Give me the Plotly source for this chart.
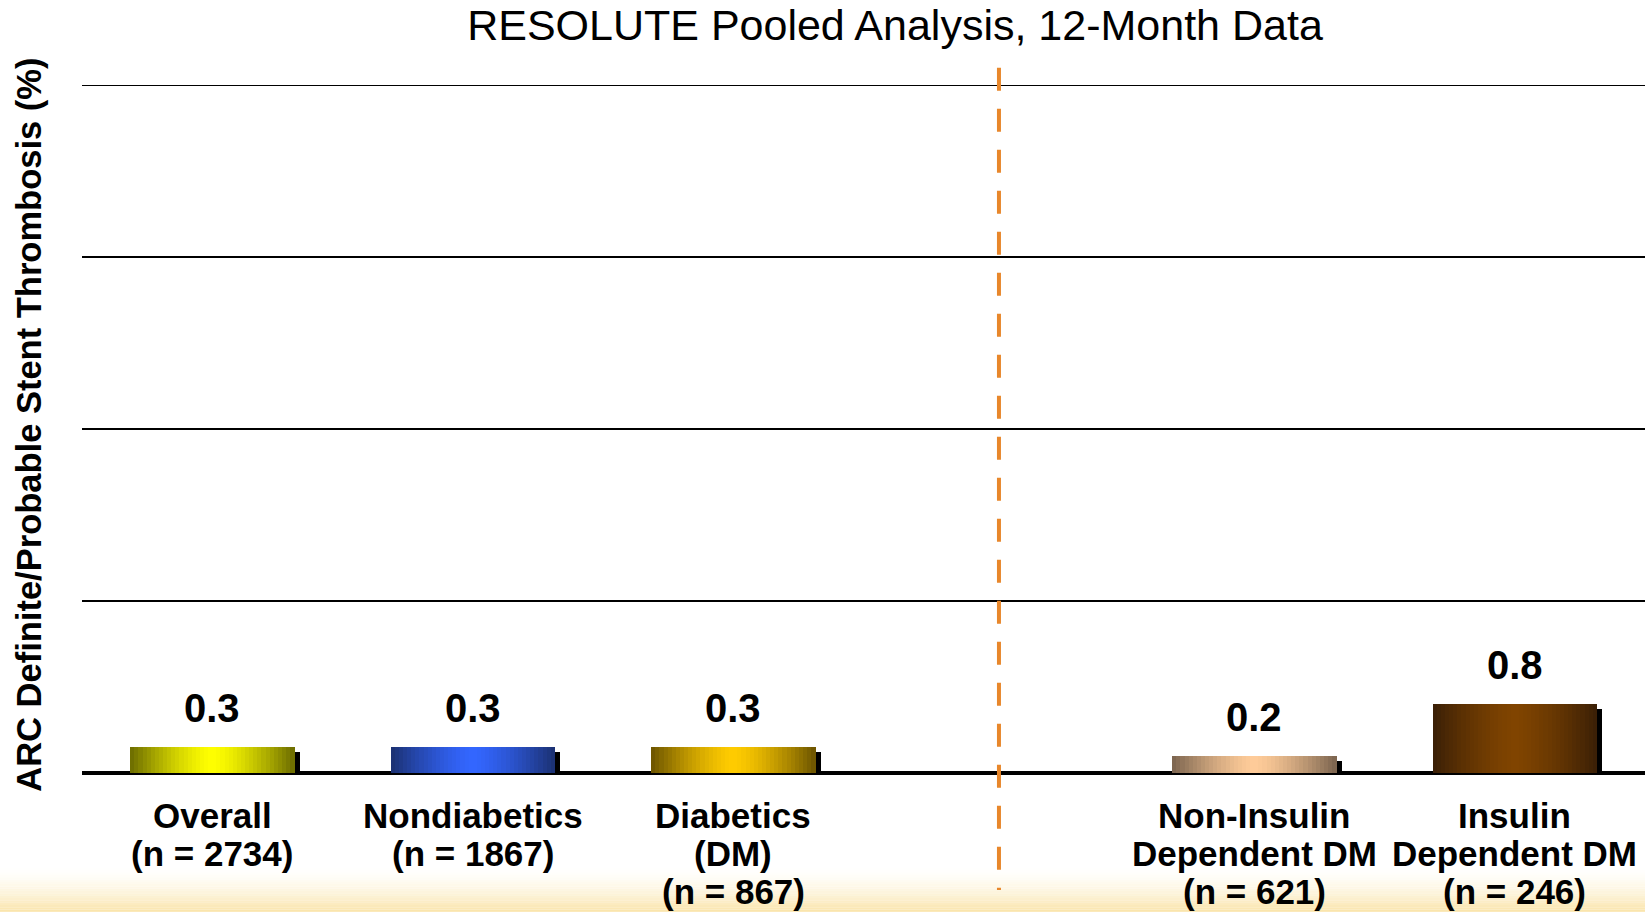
import plotly.graph_objects as go

# ---- data ----
categories = ["Overall\n(n = 2734)", "Nondiabetics\n(n = 1867)", "Diabetics\n(DM)\n(n = 867)",
              "Non-Insulin\nDependent DM\n(n = 621)", "Insulin\nDependent DM\n(n = 246)"]
x_slots = [0, 1, 2, 4, 5]
divider_slot = 3
values = [0.3, 0.3, 0.3, 0.2, 0.8]
value_labels = ["0.3", "0.3", "0.3", "0.2", "0.8"]
edge_colors = ["#6B6B00", "#1B3070", "#6B5300", "#7A634E", "#3A1F06"]
center_colors = ["#FFFF00", "#3366FF", "#FFCC00", "#FFCC99", "#804400"]
grid_ticks = [0, 2, 4, 6, 8]

title_text = "RESOLUTE Pooled Analysis, 12-Month Data"
ytitle_text = "ARC Definite/Probable Stent Thrombosis (%)"

FONT = "Liberation Sans, Arial, sans-serif"
BAR_W = 0.63
N_STRIPS = 40
Y_TOP = 8.0


def hex2rgb(h):
    h = h.lstrip("#")
    return tuple(int(h[i:i + 2], 16) for i in (0, 2, 4))


def lerp(c1, c2, t):
    a, b = hex2rgb(c1), hex2rgb(c2)
    return "rgb(%d,%d,%d)" % tuple(round(a[i] + (b[i] - a[i]) * t) for i in range(3))


fig = go.Figure()

# shadow bars
fig.add_trace(go.Bar(
    x=x_slots, y=values, base=-0.058, width=BAR_W, offset=-BAR_W / 2 + 0.02,
    marker=dict(color="#000000", line=dict(width=0)), hoverinfo="skip", showlegend=False))

# gradient bars drawn as strips
sw = BAR_W / N_STRIPS
for k in range(N_STRIPS):
    t = abs((k + 0.5) / N_STRIPS * 2 - 1)
    f = t ** 1.4
    cols = [lerp(c, e, f) for c, e in zip(center_colors, edge_colors)]
    fig.add_trace(go.Bar(
        x=x_slots, y=values, base=0, width=sw * 1.05, offset=-BAR_W / 2 + k * sw,
        marker=dict(color=cols, line=dict(width=0)), hoverinfo="skip", showlegend=False))

annotations = []
# value labels
for xs, v, lab in zip(x_slots, values, value_labels):
    annotations.append(dict(x=xs, y=v, xref="x", yref="y", text="<b>%s</b>" % lab,
                            showarrow=False, yanchor="middle", yshift=39,
                            font=dict(family=FONT, size=40, color="black")))
# category labels (one annotation per line)
line_offsets = [42, 80, 118]
for xs, cat in zip(x_slots, categories):
    for i, line in enumerate(cat.split("\n")):
        annotations.append(dict(x=xs, y=0, xref="x", yref="y", text="<b>%s</b>" % line,
                                showarrow=False, yanchor="middle", yshift=-line_offsets[i],
                                font=dict(family=FONT, size=35, color="black")))
# y-axis title
annotations.append(dict(x=-0.034, y=0.506, xref="paper", yref="paper", text="<b>%s</b>" % ytitle_text,
                        textangle=-90, showarrow=False, xanchor="center", yanchor="middle",
                        font=dict(family=FONT, size=34.5, color="black")))

shapes = []
# bottom cream gradient
n_bg = 20
start = -0.138
end = -0.205
step = (start - end) / n_bg
for i in range(n_bg):
    y0 = start - i * step
    shapes.append(dict(type="rect", xref="paper", yref="paper", x0=-0.06, x1=1.01,
                       y0=y0 - step * 1.05, y1=y0,
                       fillcolor=lerp("#FFFFFF", "#FAE3A6", ((i + 1) / n_bg) ** 1.6),
                       line=dict(width=0), layer="below"))
# top gridline (at range edge)
shapes.append(dict(type="line", xref="paper", yref="y", x0=0, x1=1, y0=Y_TOP, y1=Y_TOP,
                   line=dict(color="black", width=2), layer="below"))
# dashed divider
shapes.append(dict(type="line", xref="x", yref="paper", x0=divider_slot + 0.02, x1=divider_slot + 0.02,
                   y0=1.025, y1=-0.170, line=dict(color="#E8872B", width=4, dash="23px,18px"),
                   layer="above"))

fig.update_layout(
    width=1645, height=912,
    margin=dict(l=82, r=0, t=85, b=139),
    paper_bgcolor="white", plot_bgcolor="white",
    barmode="overlay", bargap=0,
    showlegend=False,
    title=dict(text=title_text, x=895 / 1645, xanchor="center", xref="container",
               y=1 - 25 / 912, yanchor="middle", yref="container",
               font=dict(family=FONT, size=43, color="black")),
    xaxis=dict(range=[-0.5, 5.5], showgrid=False, zeroline=False, showticklabels=False,
               ticks="", showline=False, fixedrange=True),
    yaxis=dict(range=[0, Y_TOP], tickvals=grid_ticks, showticklabels=False, ticks="",
               showgrid=True, gridcolor="black", gridwidth=2,
               zeroline=True, zerolinecolor="black", zerolinewidth=4,
               showline=False, fixedrange=True),
    annotations=annotations,
    shapes=shapes,
)

fig.write_html("out.html", config={"displayModeBar": False},
               post_script="document.body.style.margin='0px';document.body.style.padding='0px';"
                           "document.documentElement.style.overflow='hidden';")
